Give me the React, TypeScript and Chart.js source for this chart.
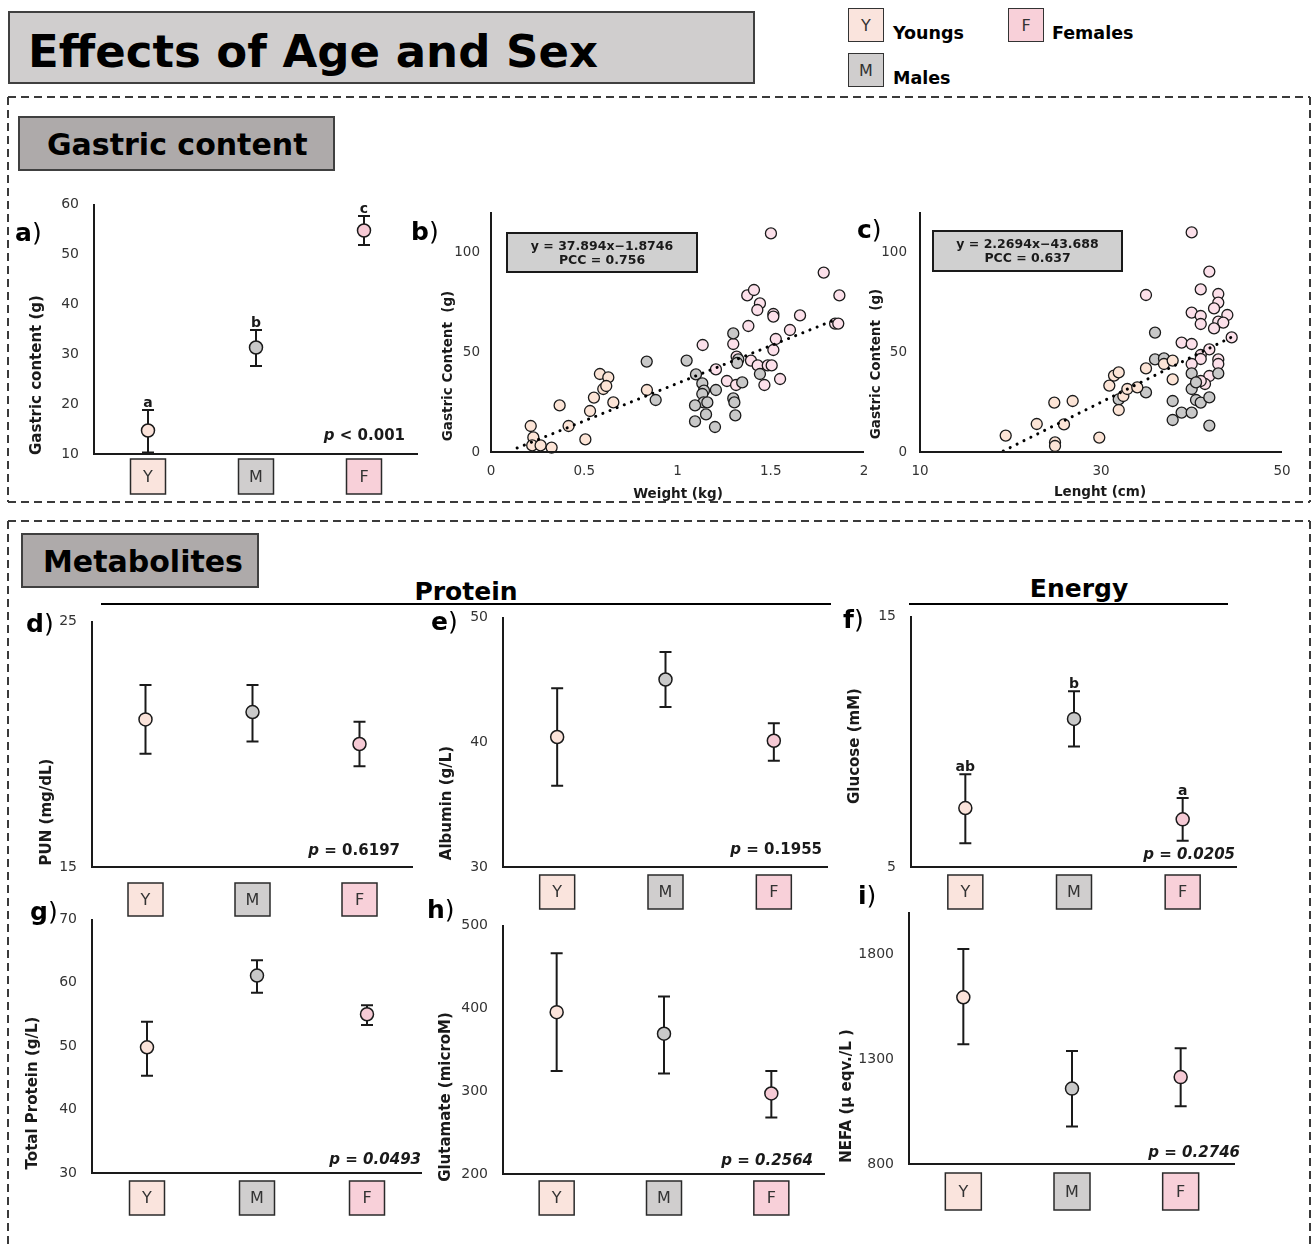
import React, { useEffect, useRef } from 'react';
import { Chart, registerables } from 'chart.js';
Chart.register(...registerables);

const FONT = '"DejaVu Sans", Verdana, sans-serif';
const INK = '#1a1a1a';
const TICK = '#333333';

const groups = ['Y', 'M', 'F'];
const groupNames = ['Youngs', 'Males', 'Females'];
const markerFill = ['#FBE3DA', '#C9C9C9', '#F6CAD5'];
const boxFill = ['#FAE4DD', '#D0CECE', '#F8D0D9'];
const scatterFill = ['#FCE4D6', '#C8C8C8', '#FCE0EA'];

// a) Gastric content
const gastricMean = [14.7, 31.3, 54.7];
const gastricLow = [10.3, 27.6, 51.8];
const gastricHigh = [18.8, 34.8, 57.6];
const gastricLetters = ['a', 'b', 'c'];
const gastricTicks = [10, 20, 30, 40, 50, 60];

// d) PUN
const punMean = [21.0, 21.3, 20.0];
const punLow = [19.6, 20.1, 19.1];
const punHigh = [22.4, 22.4, 20.9];
const punTicks = [15, 25];

// e) Albumin
const albuminMean = [40.4, 45.0, 40.1];
const albuminLow = [36.5, 42.8, 38.5];
const albuminHigh = [44.3, 47.2, 41.5];
const albuminTicks = [30, 40, 50];

// f) Glucose
const glucoseMean = [7.35, 10.9, 6.9];
const glucoseLow = [5.95, 9.8, 6.05];
const glucoseHigh = [8.7, 12.0, 7.75];
const glucoseLetters = ['ab', 'b', 'a'];
const glucoseTicks = [5, 15];

// g) Total protein
const proteinMean = [49.8, 61.1, 55.0];
const proteinLow = [45.3, 58.4, 53.3];
const proteinHigh = [53.8, 63.5, 56.4];
const proteinTicks = [30, 40, 50, 60, 70];

// h) Glutamate
const glutamateMean = [395, 369, 297];
const glutamateLow = [324, 321, 268];
const glutamateHigh = [466, 414, 324];
const glutamateTicks = [200, 300, 400, 500];

// i) NEFA
const nefaMean = [1594, 1159, 1214];
const nefaLow = [1370, 979, 1075];
const nefaHigh = [1824, 1338, 1351];
const nefaTicks = [800, 1300, 1800];

// b) Gastric content vs weight (kg, g)
const youngsWeight = [[0.213, 13], [0.227, 7.3], [0.221, 3.3], [0.266, 3.3], [0.325, 2.2], [0.368, 23.3], [0.416, 13], [0.506, 6.3], [0.531, 20.5], [0.552, 27.2], [0.584, 39], [0.629, 37.3], [0.602, 31.5], [0.618, 33], [0.656, 24.8], [0.836, 31]];
const malesWeight = [[0.835, 45.2], [0.883, 26], [1.049, 45.7], [1.099, 38.8], [1.133, 34.3], [1.142, 30.7], [1.133, 29], [1.14, 24.8], [1.16, 24.8], [1.094, 23.3], [1.153, 18.8], [1.094, 15.3], [1.201, 12.5], [1.206, 31], [1.299, 59.3], [1.299, 26.8], [1.305, 24.8], [1.31, 18.3], [1.347, 34.8], [1.326, 46.3], [1.442, 39], [1.32, 44.5]];
const femalesWeight = [[1.135, 53.5], [1.206, 41.3], [1.265, 35.5], [1.314, 33.5], [1.299, 54], [1.317, 47.7], [1.38, 63], [1.374, 78.3], [1.41, 81], [1.442, 74.3], [1.428, 71], [1.394, 45.7], [1.43, 43.3], [1.484, 43.3], [1.505, 43.3], [1.466, 33.5], [1.514, 51], [1.527, 56.5], [1.514, 69], [1.514, 67.7], [1.501, 109.3], [1.55, 36.5], [1.603, 61], [1.657, 68.3], [1.784, 89.7], [1.868, 78.3], [1.845, 64.2], [1.862, 64.2]];
const trendWeight = [[0.14, 2], [1.855, 66.5]];
const weightTicks = [0, 0.5, 1, 1.5, 2];
const weightTickLabels = ['0', '0.5', '1', '1.5', '2'];

// c) Gastric content vs length (cm, g)
const youngsLength = [[19.47, 8.2], [22.9, 14], [24.84, 24.7], [24.92, 4.8], [24.92, 3], [25.91, 13.8], [26.87, 25.5], [29.81, 7.2], [30.92, 33.2], [31.44, 38.2], [31.96, 39.8], [31.96, 21], [32.47, 28], [32.91, 31.5], [34.01, 32.3], [34.97, 41.8], [36.96, 44], [37.92, 45.7], [37.92, 36.3]];
const malesLength = [[31.96, 26.3], [34.97, 29.8], [35.97, 59.7], [35.97, 46.3], [36.96, 46.8], [37.92, 25.5], [37.92, 16], [38.91, 19.7], [40.02, 19.7], [40.02, 31.5], [40.02, 39.3], [40.5, 34.8], [40.5, 26], [41.02, 24.7], [41.97, 27.3], [41.97, 13.2], [42.96, 39.3]];
const femalesLength = [[40.02, 109.8], [34.97, 78.5], [41.97, 90.2], [41.02, 81.3], [42.96, 79], [42.96, 74.7], [42.49, 71.8], [40.02, 69.7], [41.02, 68], [41.02, 64], [43.96, 68.5], [42.96, 65.2], [43.51, 64.7], [42.49, 61.8], [44.44, 57.3], [38.91, 54.7], [40.02, 54], [41.97, 51.3], [41.02, 48.5], [41.02, 46.5], [40.02, 44], [42.96, 46.3], [42.96, 44], [41.97, 38], [41.49, 34], [41.02, 35.5]];
const trendLength = [[19.2, 0.5], [44.45, 57.5]];
const lengthTicks = [10, 30, 50];
const gastricScatterTicks = [0, 50, 100];

type DotSpec = {
  l: number; r: number; t: number; b: number;
  yMin: number; yMax: number; ticks: number[];
  mean: number[]; low: number[]; high: number[]; letters?: string[];
  pSym: string; pRest: string; pItalic: boolean; pRight: number; pMid: number;
  title: string; titleX: number; titleY: number;
  boxGap: number; boxW: number; boxH: number;
};

const dotSpecs: DotSpec[] = [
  { l: 94, r: 418, t: 204, b: 454, yMin: 10, yMax: 60, ticks: gastricTicks, mean: gastricMean, low: gastricLow, high: gastricHigh, letters: gastricLetters,
    pSym: 'p', pRest: ' < 0.001', pItalic: false, pRight: 405, pMid: 436, title: 'Gastric content (g)', titleX: 37, titleY: 375, boxGap: 5, boxW: 35, boxH: 35 },
  { l: 92, r: 413, t: 621, b: 867, yMin: 15, yMax: 25, ticks: punTicks, mean: punMean, low: punLow, high: punHigh,
    pSym: 'p', pRest: ' = 0.6197', pItalic: false, pRight: 400, pMid: 851, title: 'PUN (mg/dL)', titleX: 47, titleY: 812, boxGap: 16, boxW: 35, boxH: 33 },
  { l: 503, r: 828, t: 617, b: 867, yMin: 30, yMax: 50, ticks: albuminTicks, mean: albuminMean, low: albuminLow, high: albuminHigh,
    pSym: 'p', pRest: ' = 0.1955', pItalic: false, pRight: 822, pMid: 850, title: 'Albumin (g/L)', titleX: 447, titleY: 803, boxGap: 8, boxW: 35, boxH: 34 },
  { l: 911, r: 1237, t: 616, b: 867, yMin: 5, yMax: 15, ticks: glucoseTicks, mean: glucoseMean, low: glucoseLow, high: glucoseHigh, letters: glucoseLetters,
    pSym: 'p', pRest: ' = 0.0205', pItalic: true, pRight: 1235, pMid: 855, title: 'Glucose (mM)', titleX: 855, titleY: 746, boxGap: 8, boxW: 35, boxH: 34 },
  { l: 92, r: 422, t: 919, b: 1173, yMin: 30, yMax: 70, ticks: proteinTicks, mean: proteinMean, low: proteinLow, high: proteinHigh,
    pSym: 'p', pRest: ' = 0.0493', pItalic: true, pRight: 421, pMid: 1160, title: 'Total Protein (g/L)', titleX: 33, titleY: 1093, boxGap: 8, boxW: 35, boxH: 34 },
  { l: 503, r: 825, t: 925, b: 1174, yMin: 200, yMax: 500, ticks: glutamateTicks, mean: glutamateMean, low: glutamateLow, high: glutamateHigh,
    pSym: 'p', pRest: ' = 0.2564', pItalic: true, pRight: 813, pMid: 1161, title: 'Glutamate (microM)', titleX: 446, titleY: 1097, boxGap: 7, boxW: 35, boxH: 34 },
  { l: 909, r: 1235, t: 912, b: 1164, yMin: 800, yMax: 2000, ticks: nefaTicks, mean: nefaMean, low: nefaLow, high: nefaHigh,
    pSym: 'p', pRest: ' = 0.2746', pItalic: true, pRight: 1240, pMid: 1153, title: 'NEFA (\u00b5 eqv./L )', titleX: 847, titleY: 1096, boxGap: 9, boxW: 36, boxH: 37 },
];

function drawRotated(ctx: CanvasRenderingContext2D, text: string, x: number, y: number, font: string) {
  ctx.save();
  ctx.translate(x, y);
  ctx.rotate(-Math.PI / 2);
  ctx.font = font;
  ctx.fillStyle = INK;
  ctx.textAlign = 'center';
  ctx.textBaseline = 'middle';
  ctx.fillText(text, 0, 0);
  ctx.restore();
}

function dotPlugin(s: DotSpec, ox: number, oy: number) {
  return {
    id: 'dotDecor',
    beforeDatasetsDraw(chart: any) {
      const ctx: CanvasRenderingContext2D = chart.ctx;
      const xs = chart.scales.x, ys = chart.scales.y;
      ctx.save();
      ctx.strokeStyle = INK;
      ctx.lineWidth = 2;
      s.mean.forEach((_, i) => {
        const px = xs.getPixelForValue(i);
        const yl = ys.getPixelForValue(s.low[i]);
        const yh = ys.getPixelForValue(s.high[i]);
        ctx.beginPath();
        ctx.moveTo(px, yl); ctx.lineTo(px, yh);
        ctx.moveTo(px - 6, yl); ctx.lineTo(px + 6, yl);
        ctx.moveTo(px - 6, yh); ctx.lineTo(px + 6, yh);
        ctx.stroke();
      });
      ctx.restore();
    },
    afterDraw(chart: any) {
      const ctx: CanvasRenderingContext2D = chart.ctx;
      const xs = chart.scales.x, ys = chart.scales.y;
      const a = chart.chartArea;
      ctx.save();
      ctx.strokeStyle = INK;
      ctx.lineWidth = 2;
      ctx.beginPath();
      ctx.moveTo(a.left, a.top); ctx.lineTo(a.left, a.bottom); ctx.lineTo(a.right, a.bottom);
      ctx.stroke();
      ctx.font = `14px ${FONT}`;
      ctx.fillStyle = TICK;
      ctx.textAlign = 'right';
      ctx.textBaseline = 'middle';
      s.ticks.forEach((t) => ctx.fillText(String(t), a.left - 15, ys.getPixelForValue(t)));
      groups.forEach((g, i) => {
        const px = xs.getPixelForValue(i);
        const top = a.bottom + s.boxGap;
        ctx.fillStyle = boxFill[i];
        ctx.fillRect(px - s.boxW / 2, top, s.boxW, s.boxH);
        ctx.strokeStyle = '#2a2a2a';
        ctx.lineWidth = 1.5;
        ctx.strokeRect(px - s.boxW / 2, top, s.boxW, s.boxH);
        ctx.fillStyle = TICK;
        ctx.font = `16px ${FONT}`;
        ctx.textAlign = 'center';
        ctx.textBaseline = 'middle';
        ctx.fillText(g, px, top + s.boxH / 2 + 1);
      });
      if (s.letters) {
        ctx.font = `bold 14px ${FONT}`;
        ctx.fillStyle = INK;
        ctx.textAlign = 'center';
        ctx.textBaseline = 'alphabetic';
        s.letters.forEach((L, i) => ctx.fillText(L, xs.getPixelForValue(i), ys.getPixelForValue(s.high[i]) - 3));
      }
      const restFont = `${s.pItalic ? 'italic ' : ''}bold 15px ${FONT}`;
      const pFont = `italic bold 15px ${FONT}`;
      ctx.font = restFont;
      const wRest = ctx.measureText(s.pRest).width;
      ctx.font = pFont;
      const wP = ctx.measureText(s.pSym).width;
      const startX = s.pRight - ox - wRest - wP;
      ctx.textAlign = 'left';
      ctx.textBaseline = 'middle';
      ctx.fillStyle = INK;
      ctx.fillText(s.pSym, startX, s.pMid - oy);
      ctx.font = restFont;
      ctx.fillText(s.pRest, startX + wP, s.pMid - oy);
      drawRotated(ctx, s.title, s.titleX - ox, s.titleY - oy, `bold 15px ${FONT}`);
      ctx.restore();
    },
  };
}

type ScatterSpec = {
  l: number; r: number; t: number; b: number;
  xMin: number; xMax: number; xTicks: number[]; xTickLabels: string[];
  series: number[][][]; trend: number[][];
  xTitle: string; xTitleX: number; xTitleY: number;
  yTitleX: number; yTitleY: number; tickGap: number;
  eq: string; pcc: string; box: { x: number; y: number; w: number; h: number };
};

const scatterSpecs: ScatterSpec[] = [
  { l: 491, r: 864, t: 212, b: 452, xMin: 0, xMax: 2, xTicks: weightTicks, xTickLabels: weightTickLabels,
    series: [youngsWeight, malesWeight, femalesWeight], trend: trendWeight,
    xTitle: 'Weight (kg)', xTitleX: 678, xTitleY: 494, yTitleX: 448, yTitleY: 366, tickGap: 11,
    eq: 'y = 37.894x\u22121.8746', pcc: 'PCC = 0.756', box: { x: 507, y: 233, w: 190, h: 39 } },
  { l: 920, r: 1282, t: 212, b: 452, xMin: 10, xMax: 50, xTicks: lengthTicks, xTickLabels: lengthTicks.map(String),
    series: [youngsLength, malesLength, femalesLength], trend: trendLength,
    xTitle: 'Lenght (cm)', xTitleX: 1100, xTitleY: 492, yTitleX: 876, yTitleY: 364, tickGap: 13,
    eq: 'y = 2.2694x\u221243.688', pcc: 'PCC = 0.637', box: { x: 933, y: 231, w: 189, h: 40 } },
];

function scatterPlugin(s: ScatterSpec, ox: number, oy: number) {
  return {
    id: 'scatterDecor',
    afterDraw(chart: any) {
      const ctx: CanvasRenderingContext2D = chart.ctx;
      const xs = chart.scales.x, ys = chart.scales.y;
      const a = chart.chartArea;
      ctx.save();
      ctx.strokeStyle = INK;
      ctx.lineWidth = 2;
      ctx.beginPath();
      ctx.moveTo(a.left, a.top); ctx.lineTo(a.left, a.bottom); ctx.lineTo(a.right, a.bottom);
      ctx.stroke();
      ctx.font = `13.5px ${FONT}`;
      ctx.fillStyle = TICK;
      ctx.textAlign = 'right';
      ctx.textBaseline = 'middle';
      gastricScatterTicks.forEach((t) => ctx.fillText(String(t), a.left - s.tickGap, ys.getPixelForValue(t)));
      ctx.textAlign = 'center';
      s.xTicks.forEach((t, i) => ctx.fillText(s.xTickLabels[i], xs.getPixelForValue(t), a.bottom + 19));
      ctx.fillStyle = INK;
      ctx.font = `bold 13.5px ${FONT}`;
      ctx.fillText(s.xTitle, s.xTitleX - ox, s.xTitleY - oy);
      drawRotated(ctx, 'Gastric Content  (g)', s.yTitleX - ox, s.yTitleY - oy, `bold 13.5px ${FONT}`);
      const bx = s.box.x - ox, by = s.box.y - oy;
      ctx.fillStyle = '#D0D0D0';
      ctx.fillRect(bx, by, s.box.w, s.box.h);
      ctx.strokeStyle = INK;
      ctx.lineWidth = 2;
      ctx.strokeRect(bx, by, s.box.w, s.box.h);
      ctx.fillStyle = INK;
      ctx.font = `bold 12.5px ${FONT}`;
      ctx.textAlign = 'center';
      ctx.fillText(s.eq, bx + s.box.w / 2, by + 13.5);
      ctx.fillText(s.pcc, bx + s.box.w / 2, by + 27.5);
      ctx.restore();
    },
  };
}

function ChartCanvas({ x, y, w, h, make }: { x: number; y: number; w: number; h: number; make: () => any }) {
  const ref = useRef<HTMLCanvasElement>(null);
  useEffect(() => {
    const chart = new Chart(ref.current as HTMLCanvasElement, make());
    return () => chart.destroy();
  }, []);
  return (
    <canvas ref={ref} width={w} height={h}
      style={{ position: 'absolute', left: x, top: y, width: w, height: h, display: 'block' }} />
  );
}

function DotPanel({ s }: { s: DotSpec }) {
  const cx = s.l - 90, cy = s.t - 40, cw = s.r - s.l + 110, ch = s.b - s.t + 95;
  const make = () => ({
    type: 'line',
    data: {
      labels: groups,
      datasets: [{
        data: s.mean, showLine: false, pointRadius: 6.5, pointHoverRadius: 6.5,
        pointBackgroundColor: markerFill, pointBorderColor: INK, pointBorderWidth: 1.5, clip: false,
      }],
    },
    options: {
      animation: false, responsive: false, events: [],
      layout: { padding: { left: s.l - cx, right: cx + cw - s.r, top: s.t - cy, bottom: cy + ch - s.b } },
      plugins: { legend: { display: false }, tooltip: { enabled: false } },
      scales: {
        x: { type: 'category', offset: true, display: false },
        y: { type: 'linear', min: s.yMin, max: s.yMax, display: false },
      },
    },
    plugins: [dotPlugin(s, cx, cy)],
  });
  return <ChartCanvas x={cx} y={cy} w={cw} h={ch} make={make} />;
}

function ScatterPanel({ s }: { s: ScatterSpec }) {
  const cx = s.l - 70, cy = s.t - 15, cw = s.r - s.l + 85, ch = s.b - s.t + 80;
  const make = () => ({
    type: 'scatter',
    data: {
      datasets: [
        {
          type: 'line', data: s.trend.map(([x, y]) => ({ x, y })), order: -1,
          borderColor: '#000', borderWidth: 3, borderDash: [0.1, 7.6], borderCapStyle: 'round',
          pointRadius: 0, showLine: true, fill: false, clip: false,
        },
        ...s.series.map((pts, i) => ({
          label: groupNames[i],
          data: pts.map(([x, y]) => ({ x, y })),
          pointRadius: 5.5, pointHoverRadius: 5.5,
          pointBackgroundColor: scatterFill[i], pointBorderColor: INK, pointBorderWidth: 1.3, clip: false,
        })),
      ],
    },
    options: {
      animation: false, responsive: false, events: [],
      layout: { padding: { left: s.l - cx, right: cx + cw - s.r, top: s.t - cy, bottom: cy + ch - s.b } },
      plugins: { legend: { display: false }, tooltip: { enabled: false } },
      scales: {
        x: { type: 'linear', min: s.xMin, max: s.xMax, display: false },
        y: { type: 'linear', min: 0, max: 120, display: false },
      },
    },
    plugins: [scatterPlugin(s, cx, cy)],
  });
  return <ChartCanvas x={cx} y={cy} w={cw} h={ch} make={make} />;
}

function T({ x, base, size, bold = true, center = false, children, style }: any) {
  return (
    <div style={{
      position: 'absolute', left: x, top: base - 0.846 * size, fontSize: size, lineHeight: `${size}px`,
      fontFamily: FONT, fontWeight: bold ? 'bold' : 'normal', color: '#000', whiteSpace: 'nowrap',
      transform: center ? 'translateX(-50%)' : undefined, ...style,
    }}>{children}</div>
  );
}

function PanelLabel({ x, base, letter }: { x: number; base: number; letter: string }) {
  return (
    <T x={x} base={base} size={25}>
      {letter}<span style={{ fontWeight: 'normal' }}>)</span>
    </T>
  );
}

function LegendBox({ x, y, i }: { x: number; y: number; i: number }) {
  return (
    <div style={{
      position: 'absolute', left: x, top: y, width: 36, height: 34, boxSizing: 'border-box',
      background: boxFill[i], border: '1.5px solid #333', fontFamily: FONT, fontSize: 16,
      color: '#333', display: 'flex', alignItems: 'center', justifyContent: 'center',
    }}>{groups[i]}</div>
  );
}

export default function App() {
  return (
    <div style={{ position: 'absolute', left: 0, top: 0, width: 1315, height: 1244, background: '#fff', overflow: 'hidden' }}>
      <svg width={1315} height={1244} style={{ position: 'absolute', left: 0, top: 0 }}>
        <g stroke="#3a3a3a" strokeWidth={2} strokeDasharray="8 5" fill="none">
          <path d="M8 97 H1310 M8 97 V502 M1310 97 V502 M8 502 H1310" />
          <path d="M8 521 H1310 M8 521 V1250 M1310 521 V1250" />
        </g>
        <line x1={101} y1={604} x2={831} y2={604} stroke="#000" strokeWidth={2} />
        <line x1={909} y1={604} x2={1228} y2={604} stroke="#000" strokeWidth={2} />
      </svg>

      <div style={{ position: 'absolute', left: 8, top: 11, width: 747, height: 73, boxSizing: 'border-box', background: '#D0CECE', border: '2px solid #404040' }} />
      <T x={28} base={67} size={45}>Effects of Age and Sex</T>

      <LegendBox x={848} y={8} i={0} />
      <T x={893} base={40} size={17.5}>{groupNames[0]}</T>
      <LegendBox x={1008} y={8} i={2} />
      <T x={1052} base={40} size={17.5}>{groupNames[2]}</T>
      <LegendBox x={848} y={53} i={1} />
      <T x={893} base={85} size={17.5}>{groupNames[1]}</T>

      <div style={{ position: 'absolute', left: 18, top: 116, width: 317, height: 55, boxSizing: 'border-box', background: '#AEAAAA', border: '2px solid #404040' }} />
      <T x={47} base={155} size={30}>Gastric content</T>
      <div style={{ position: 'absolute', left: 21, top: 533, width: 238, height: 55, boxSizing: 'border-box', background: '#AEAAAA', border: '2px solid #404040' }} />
      <T x={43} base={572} size={30}>Metabolites</T>
      <T x={466} base={600} size={25} center>Protein</T>
      <T x={1079} base={597} size={25} center>Energy</T>

      {dotSpecs.map((s, i) => <DotPanel key={'d' + i} s={s} />)}
      {scatterSpecs.map((s, i) => <ScatterPanel key={'s' + i} s={s} />)}

      <PanelLabel x={15} base={241} letter="a" />
      <PanelLabel x={411} base={240} letter="b" />
      <PanelLabel x={857} base={238} letter="c" />
      <PanelLabel x={26} base={632} letter="d" />
      <PanelLabel x={431} base={630} letter="e" />
      <PanelLabel x={843} base={628} letter="f" />
      <PanelLabel x={30} base={920} letter="g" />
      <PanelLabel x={427} base={918} letter="h" />
      <PanelLabel x={858} base={904} letter="i" />
    </div>
  );
}
